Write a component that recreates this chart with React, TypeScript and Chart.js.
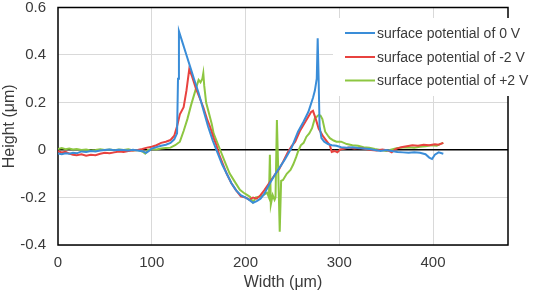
import React, { useEffect, useRef } from "react";
import { Chart, registerables } from "chart.js";

Chart.register(...registerables);

const seriesLabels = [
  "surface potential of 0 V",
  "surface potential of -2 V",
  "surface potential of +2 V",
];
const seriesColors = ["#3A8DD8", "#E8423F", "#8DC641"];

const xTickValues = [0, 100, 200, 300, 400];
const yTickValues = [-0.4, -0.2, 0, 0.2, 0.4, 0.6];

const blueX = [0, 4, 8, 12, 16, 20, 25, 30, 35, 40, 45, 50, 55, 60, 65, 70, 75, 80, 85, 90, 94, 97, 100, 105, 110, 115, 120, 124, 127, 128, 129, 133, 137, 141, 145, 150, 155, 160, 165, 170, 175, 180, 185, 190, 195, 200, 204, 208, 212, 216, 220, 226, 232, 237, 242, 249, 256, 262, 267, 272, 274, 276, 277, 278, 279, 281, 284, 288, 292, 297, 302, 308, 314, 320, 326, 332, 338, 344, 350, 356, 362, 368, 374, 380, 386, 392, 396, 399, 402, 406, 411];
const blueY = [-0.015, -0.018, -0.014, -0.016, -0.012, -0.014, -0.006, -0.008, -0.004, -0.006, -0.002, 0.0, 0.002, -0.001, 0.001, 0.0, -0.002, 0.001, -0.002, -0.005, -0.012, -0.004, 0.006, 0.012, 0.018, 0.022, 0.03, 0.045, 0.07, 0.3, 0.5, 0.45, 0.4, 0.35, 0.3, 0.24, 0.17, 0.1, 0.04, -0.01, -0.06, -0.1, -0.14, -0.17, -0.19, -0.2, -0.21, -0.222, -0.215, -0.205, -0.185, -0.14, -0.1, -0.07, -0.04, 0.008, 0.077, 0.12, 0.16, 0.22, 0.25, 0.3, 0.47, 0.3, 0.1, 0.05, 0.035, 0.025, 0.02, 0.018, 0.012, 0.01, 0.012, 0.008, 0.006, 0.004, 0.0, -0.004, 0.0, -0.004, -0.008, -0.01, -0.012, -0.01, -0.012, -0.018, -0.032, -0.038, -0.02, -0.01, -0.016];

const redX = [0, 4, 8, 12, 16, 20, 25, 30, 35, 40, 45, 50, 55, 60, 65, 70, 75, 80, 85, 90, 95, 100, 105, 110, 115, 120, 124, 127, 130, 134, 137, 140, 143, 147, 151, 155, 159, 162, 166, 169, 172, 176, 180, 185, 190, 195, 200, 204, 208, 212, 216, 220, 226, 232, 236, 240, 245, 249, 253, 258, 264, 270, 272, 275, 278, 283, 288, 290, 292, 295, 298, 301, 305, 310, 316, 322, 328, 334, 340, 346, 352, 356, 360, 366, 372, 378, 384, 390, 396, 402, 406, 411];
const redY = [-0.005, -0.01, -0.008, -0.015, -0.02, -0.022, -0.018, -0.024, -0.02, -0.022, -0.016, -0.012, -0.014, -0.01, -0.006, -0.008, -0.004, -0.002, 0.0, 0.004, 0.01, 0.014, 0.02, 0.03, 0.035, 0.042, 0.06, 0.1, 0.15, 0.18, 0.25, 0.34, 0.31, 0.26, 0.22, 0.18, 0.13, 0.1, 0.05, 0.02, -0.02, -0.06, -0.1, -0.14, -0.17, -0.195, -0.2, -0.21, -0.2, -0.205, -0.19, -0.17, -0.135, -0.1, -0.08, -0.05, -0.01, 0.015, 0.035, 0.08, 0.12, 0.16, 0.165, 0.13, 0.09, 0.056, 0.03, 0.02, -0.008, -0.004, -0.01, 0.002, 0.005, 0.01, 0.006, 0.008, 0.004, 0.0, -0.002, 0.002, -0.002, -0.01, 0.004, 0.012, 0.016, 0.02, 0.018, 0.022, 0.02, 0.024, 0.022, 0.03];

const greenX = [0, 4, 8, 12, 16, 20, 25, 30, 35, 40, 45, 50, 55, 60, 65, 70, 75, 80, 85, 90, 93, 96, 100, 105, 110, 115, 120, 125, 130, 134, 138, 142, 145, 148, 150, 152, 154, 155, 156, 158, 160, 162, 164, 166, 169, 173, 178, 183, 188, 194, 198, 202, 205, 208, 211, 215, 219, 223, 225, 226, 227, 229, 231, 232, 233.5, 235, 236.5, 238, 240, 244, 248, 251, 254, 256, 259, 262, 265, 268, 271, 274, 276, 278, 280, 282, 285, 288, 290, 294, 297, 302, 308, 314, 320, 326, 332, 338, 344, 350, 356, 362, 368, 374, 380, 386, 392, 398, 404, 408, 411];
const greenY = [0.004, 0.008, 0.003, 0.006, 0.002, 0.004, 0.0, 0.002, -0.002, 0.0, 0.003, 0.0, 0.002, -0.001, 0.002, 0.0, 0.003, -0.002, 0.0, -0.006, -0.015, 0.0, 0.004, 0.002, 0.006, 0.008, 0.01, 0.02, 0.035, 0.08, 0.13, 0.19, 0.23, 0.27, 0.295, 0.285, 0.3, 0.323, 0.27, 0.2, 0.17, 0.14, 0.11, 0.07, 0.04, 0.0, -0.05, -0.098, -0.13, -0.168, -0.18, -0.19, -0.198, -0.22, -0.2, -0.197, -0.19, -0.18, -0.2, -0.02, -0.23, -0.19, -0.21, -0.2, 0.126, -0.1, -0.344, -0.13, -0.126, -0.1, -0.084, -0.06, -0.03, -0.007, 0.02, 0.03, 0.056, 0.07, 0.092, 0.134, 0.14, 0.147, 0.145, 0.13, 0.077, 0.06, 0.05, 0.04, 0.035, 0.035, 0.025, 0.02, 0.018, 0.012, 0.01, 0.004, 0.0, -0.004, 0.002, 0.008, 0.01, 0.012, 0.01, 0.014, 0.016, 0.02, 0.018, 0.026, 0.03];

const FONT = "'Liberation Sans', Arial, sans-serif";
const TEXT_COLOR = "#3a3a3a";

const toPoints = (xs: number[], ys: number[]) => xs.map((x, i) => ({ x, y: ys[i] }));

const frameAndLegend = {
  id: "frameAndLegend",
  beforeDatasetsDraw(chart: any) {
    const { ctx, chartArea } = chart;
    ctx.save();
    ctx.strokeStyle = "#000";
    ctx.lineWidth = 1.5;
    ctx.strokeRect(chartArea.left, chartArea.top, chartArea.right - chartArea.left, chartArea.bottom - chartArea.top);
    ctx.restore();
  },
  afterDatasetsDraw(chart: any) {
    const { ctx } = chart;
    ctx.save();
    ctx.fillStyle = "#ffffff";
    ctx.fillRect(333, 18, 200, 78);
    const rows = [33, 57, 80.5];
    ctx.font = `14px ${FONT}`;
    ctx.textBaseline = "middle";
    ctx.textAlign = "left";
    chart.data.datasets.forEach((ds: any, i: number) => {
      ctx.strokeStyle = ds.borderColor;
      ctx.lineWidth = 2;
      ctx.beginPath();
      ctx.moveTo(345, rows[i]);
      ctx.lineTo(375, rows[i]);
      ctx.stroke();
      ctx.fillStyle = TEXT_COLOR;
      ctx.fillText(ds.label, 377, rows[i] + 1);
    });
    ctx.restore();
  },
};

export default function App() {
  const ref = useRef<HTMLCanvasElement | null>(null);
  useEffect(() => {
    if (!ref.current) return;
    const datasets = [
      toPoints(blueX, blueY),
      toPoints(redX, redY),
      toPoints(greenX, greenY),
    ].map((data, i) => ({
      label: seriesLabels[i],
      data,
      borderColor: seriesColors[i],
      backgroundColor: seriesColors[i],
      borderWidth: 2,
      pointRadius: 0,
      tension: 0,
      fill: false,
    }));
    const chart = new Chart(ref.current, {
      type: "line",
      data: { datasets },
      plugins: [frameAndLegend],
      options: {
        animation: false,
        responsive: false,
        devicePixelRatio: 1,
        layout: { padding: { left: 0, right: 25, top: 7.5, bottom: 0 } },
        plugins: { legend: { display: false }, tooltip: { enabled: false } },
        scales: {
          x: {
            type: "linear",
            min: 0,
            max: 480,
            afterBuildTicks: (scale: any) => {
              scale.ticks = xTickValues.map((v) => ({ value: v }));
            },
            afterFit: (scale: any) => {
              scale.height = 50;
              scale.paddingLeft = 0;
              scale.paddingRight = 0;
            },
            border: { display: false },
            grid: {
              drawTicks: false,
              color: (c: any) => (c.tick && c.tick.value === 0 ? "rgba(0,0,0,0)" : "#d9d9d9"),
              lineWidth: 1,
            },
            ticks: {
              padding: 9,
              color: TEXT_COLOR,
              font: { family: FONT, size: 15 },
              maxRotation: 0,
              autoSkip: false,
            },
            title: {
              display: true,
              text: "Width (μm)",
              color: TEXT_COLOR,
              font: { family: FONT, size: 16 },
              padding: { top: 0, bottom: 3 },
            },
          },
          y: {
            type: "linear",
            min: -0.4,
            max: 0.6,
            afterBuildTicks: (scale: any) => {
              scale.ticks = yTickValues.map((v) => ({ value: v }));
            },
            afterFit: (scale: any) => {
              scale.width = 58;
              scale.paddingTop = 0;
              scale.paddingBottom = 0;
            },
            border: { display: false },
            grid: {
              drawTicks: false,
              color: (c: any) => (c.tick && Math.abs(c.tick.value) < 1e-9 ? "#000000" : "#d9d9d9"),
              lineWidth: (c: any) => (c.tick && Math.abs(c.tick.value) < 1e-9 ? 1.5 : 1),
            },
            ticks: {
              padding: 12,
              color: TEXT_COLOR,
              font: { family: FONT, size: 15 },
              callback: (v: any) => {
                const n = Math.round(Number(v) * 10) / 10;
                return n === 0 ? "0" : String(n);
              },
            },
            title: {
              display: true,
              text: "Height (μm)",
              color: TEXT_COLOR,
              font: { family: FONT, size: 16 },
              padding: { top: 0, bottom: 0 },
            },
          },
        },
      },
    } as any);
    return () => chart.destroy();
  }, []);
  return (
    <div style={{ position: "fixed", left: 0, top: 0, width: 533, height: 295, background: "#fff" }}>
      <canvas ref={ref} width={533} height={295} style={{ display: "block" }} />
    </div>
  );
}
